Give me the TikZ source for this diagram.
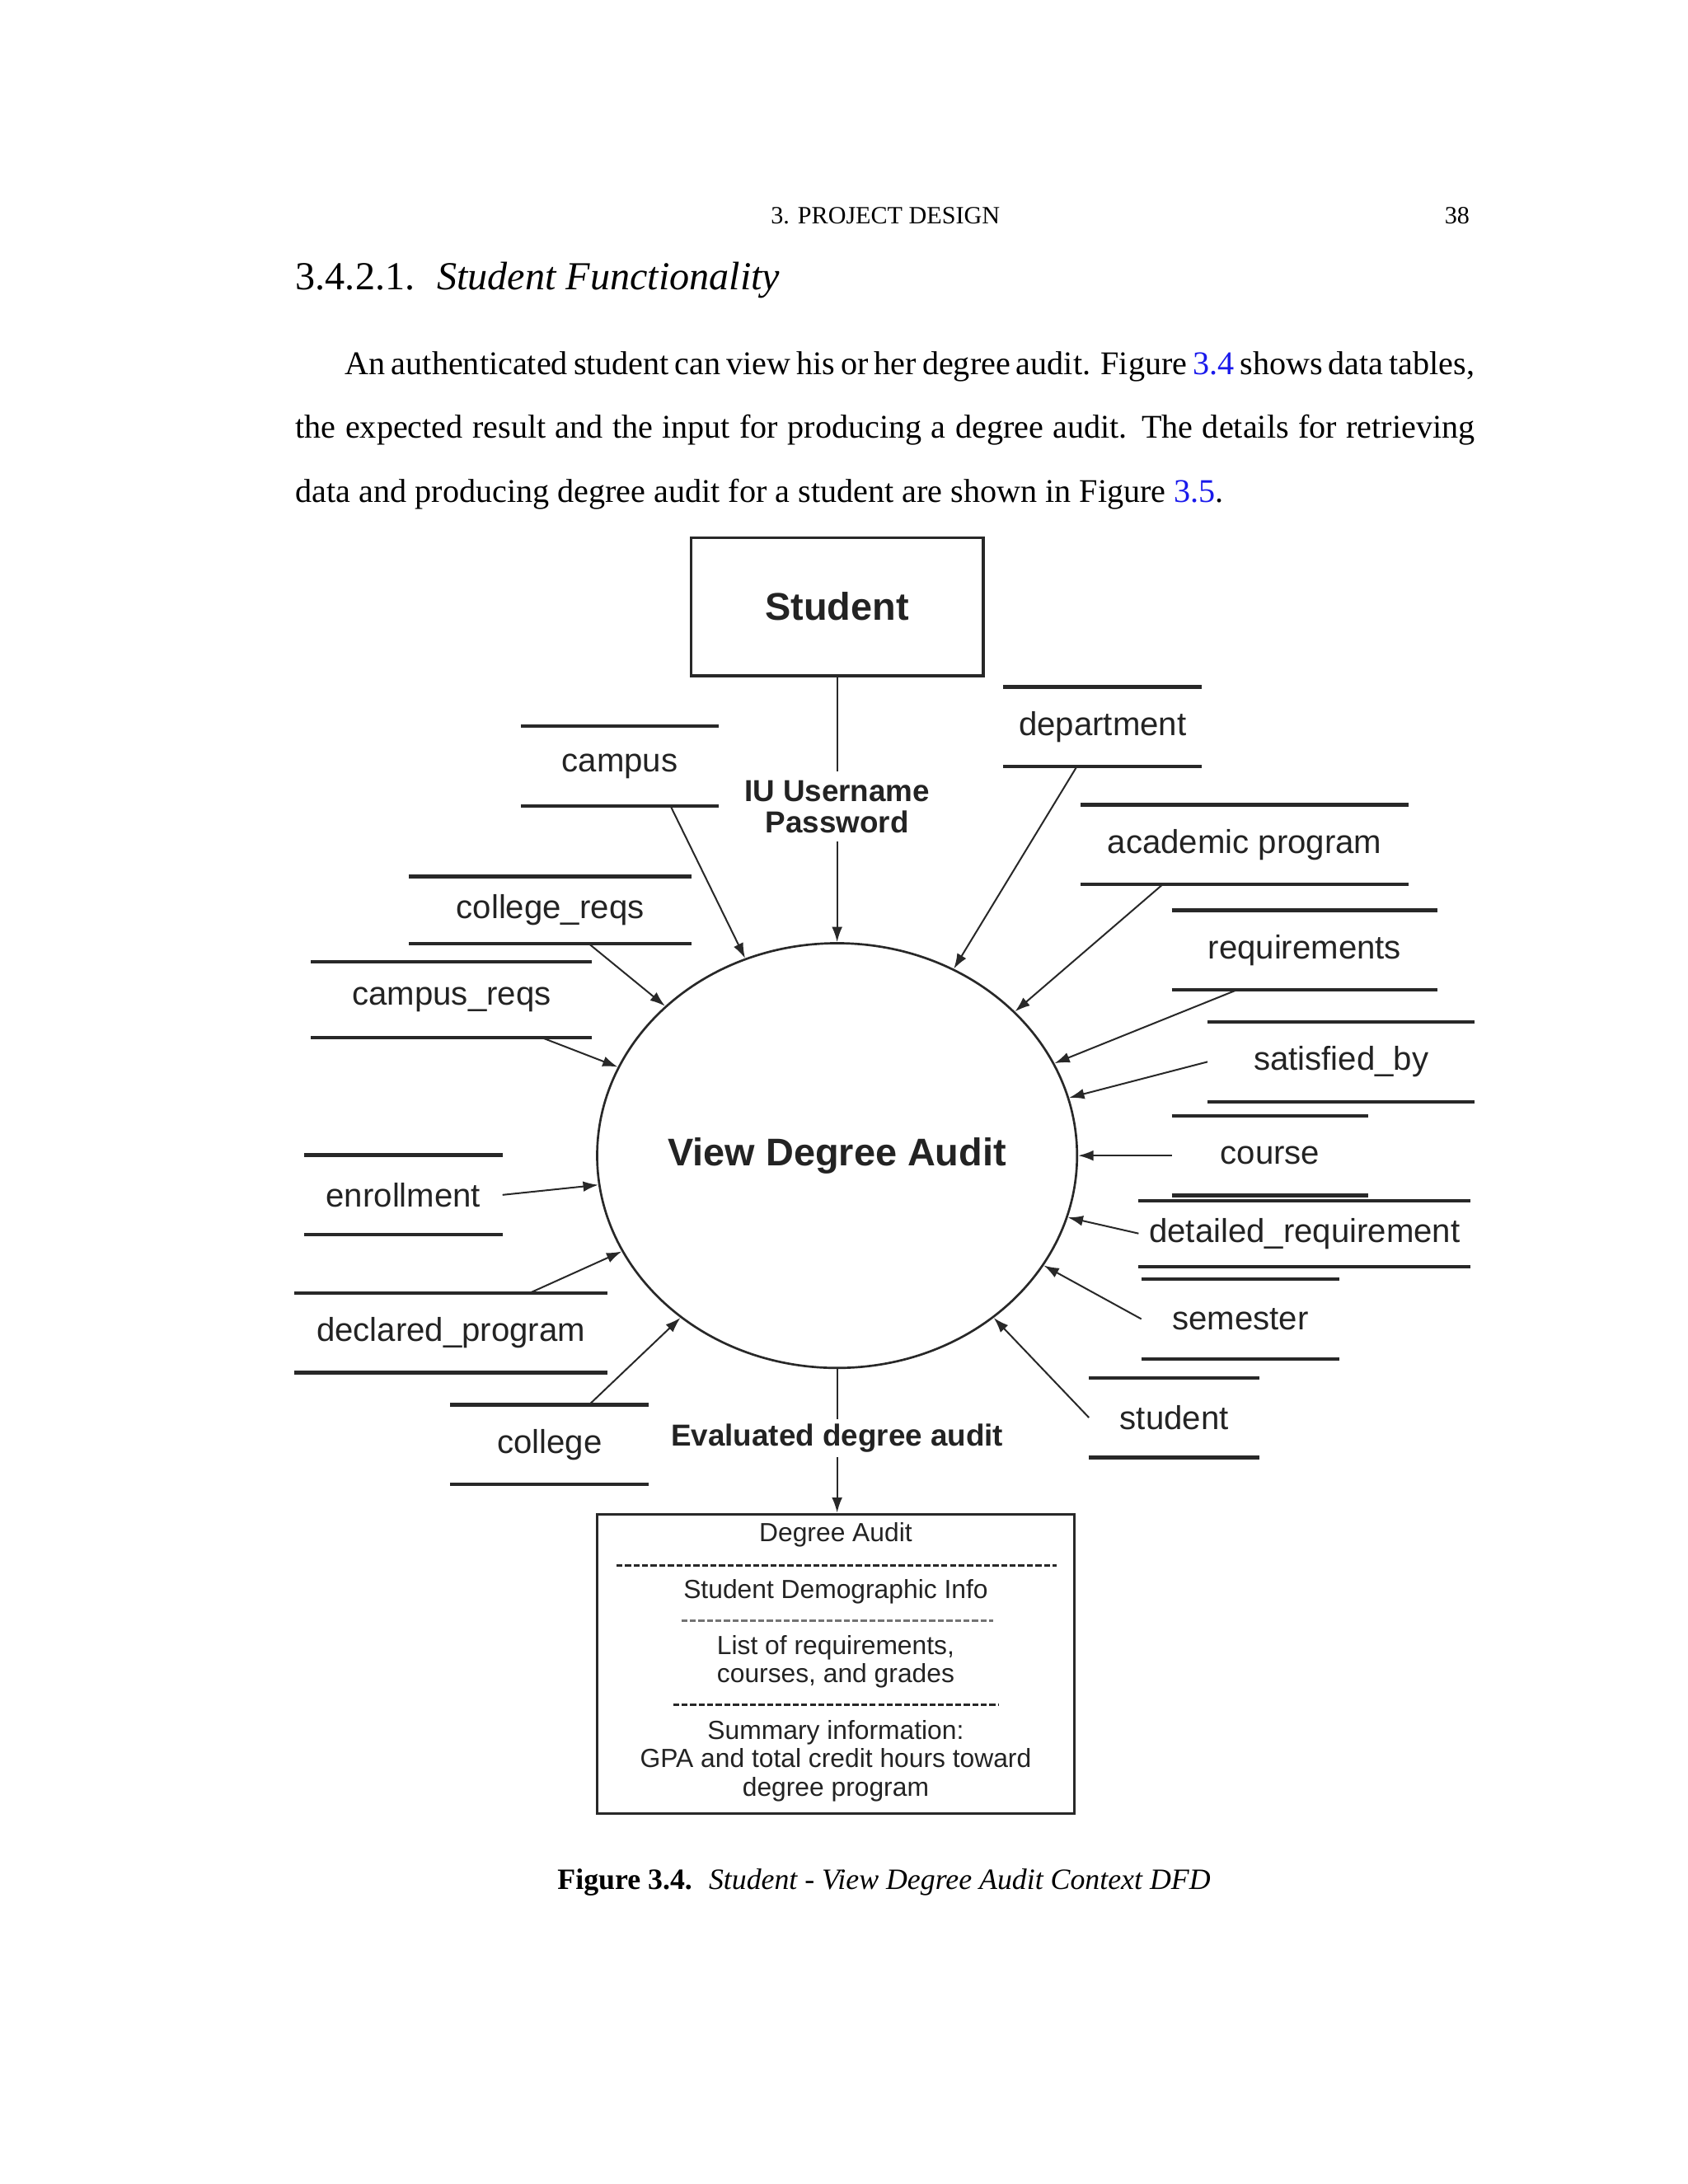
\documentclass[tikz,border=0pt]{standalone}
\usepackage{fontspec}
\setmainfont{Liberation Serif}
\newfontfamily\diagfont{Liberation Sans}
\usetikzlibrary{positioning,arrows.meta,calc,shapes.geometric}
\definecolor{dfdLink}{RGB}{25,25,235}
\definecolor{dfdInk}{RGB}{35,35,35}
\definecolor{dfdLine}{RGB}{40,40,40}

\tikzset{
  storeline/.style={draw=dfdLine, line width=1.3pt},
  store/.style={inner sep=0pt, minimum height=28.5pt, text=dfdInk,
    font=\diagfont\fontsize{12}{14}\selectfont,
    append after command={(\tikzlastnode.north west) edge[storeline] (\tikzlastnode.north east)
      (\tikzlastnode.south west) edge[storeline] (\tikzlastnode.south east)}},
  flow/.style={draw=dfdLine, line width=0.6pt, -{Latex[length=5.5pt,width=3.8pt]}},
  flowlabel/.style={inner sep=0pt, align=center, text=dfdInk,
    font=\diagfont\bfseries\fontsize{11}{11.5}\selectfont},
  boxtext/.style={inner sep=0pt, align=center, text=dfdInk,
    font=\diagfont\fontsize{9.5}{10.2}\selectfont},
  sepline/.style={draw=dfdLine, line width=0.9pt, dash pattern=on 2.2pt off 0.9pt}
}

\begin{document}
\begin{tikzpicture}[x=0.5pt, y=-0.5pt]
  \useasboundingbox (0,0) rectangle (1224,1583.8);

  % Page text
  \node[anchor=base, inner sep=0pt, font=\fontsize{9}{11}\selectfont] (runhead) at (642,162) {3. PROJECT DESIGN};
  \node[anchor=base east, inner sep=0pt, font=\fontsize{9}{11}\selectfont] (pagenum) at (1066,162) {38};
  \node[anchor=base west, inner sep=0pt, font=\fontsize{14.4}{17}\selectfont] (sechead) at (214,210)
    {3.4.2.1.\hspace{8pt}\textit{Student Functionality}};
  \node[anchor=north west, inner sep=0pt, text width=427.5pt, align=justify,
    font=\fontsize{12}{23.2}\selectfont] (intro) at (214,254.5) {%
    \hspace*{18pt}An authenticated student can view his or her degree audit. Figure \textcolor{dfdLink}{3.4} shows data tables,\linebreak
    the expected result and the input for producing a degree audit. The details for retrieving\linebreak
    data and producing degree audit for a student are shown in Figure \textcolor{dfdLink}{3.5}.};

  % External entity and process
  \node[draw=dfdLine, line width=1pt, minimum width=106pt, minimum height=50pt, text=dfdInk,
    font=\diagfont\bfseries\fontsize{14}{16}\selectfont] (student) at (607,440) {Student};
  \node[ellipse, draw=dfdLine, line width=0.8pt, minimum width=174pt, minimum height=154pt, inner sep=0pt,
    text=dfdInk, font=\diagfont\bfseries\fontsize{14}{16}\selectfont] (vda) at (607,838) {View Degree Audit};

  % Login flow
  \node[flowlabel, minimum height=25pt] (login) at (607,585) {IU Username\\Password};
  \draw[draw=dfdLine, line width=0.6pt] (student.south) -- (login.north);
  \draw[flow] (login.south) -- (vda.north);

  % Data stores, left side
  \node[store, minimum width=71.5pt] (campus) at (449.5,555.5) {campus};
  \node[store, minimum width=102pt, minimum height=24pt] (collegereqs) at (399,660) {college\_reqs};
  \node[store, minimum width=101.5pt, minimum height=27pt] (campusreqs) at (327.5,725) {campus\_reqs};
  \node[store, minimum width=71.5pt] (enrollment) at (292.5,866.5) {enrollment};
  \node[store, minimum width=113pt] (declprog) at (327,966.5) {declared\_program};
  \node[store, minimum width=71.5pt] (college) at (398.5,1047.5) {college};

  % Data stores, right side
  \node[store, minimum width=71.5pt] (department) at (799.5,527) {department};
  \node[store, minimum width=118.5pt] (acadprog) at (902.5,612.5) {academic program};
  \node[store, minimum width=96pt] (requirements) at (946,689) {requirements};
  \node[store, minimum width=96.5pt] (satisfiedby) at (972.5,770) {satisfied\_by};
  \node[store, minimum width=71pt] (course) at (921,838) {course};
  \node[store, minimum width=120pt, minimum height=23.5pt] (detailedreq) at (946,894.5) {detailed\_requirement};
  \node[store, minimum width=71.5pt] (semester) at (899.5,956.5) {semester};
  \node[store, minimum width=61.5pt] (studentstore) at (851.5,1028) {student};

  % Flows into the process
  \draw[flow] ($(campus.south west)!0.755!(campus.south east)$) -- (vda.115);
  \draw[flow] ($(collegereqs.south west)!0.637!(collegereqs.south east)$) -- (vda.139);
  \draw[flow] ($(campusreqs.south west)!0.82!(campusreqs.south east)$) -- (vda.158);
  \draw[flow] (enrollment.east) -- (vda.187);
  \draw[flow] ($(declprog.north west)!0.752!(declprog.north east)$) -- (vda.204);
  \draw[flow] ($(college.north west)!0.70!(college.north east)$) -- (vda.226);
  \draw[flow] ($(department.south west)!0.37!(department.south east)$) -- (vda.58);
  \draw[flow] ($(acadprog.south west)!0.25!(acadprog.south east)$) -- (vda.39);
  \draw[flow] ($(requirements.south west)!0.245!(requirements.south east)$) -- (vda.23);
  \draw[flow] (satisfiedby.west) -- (vda.14);
  \draw[flow] (course.west) -- (vda.east);
  \draw[flow] (detailedreq.west) -- (vda.345);
  \draw[flow] (semester.west) -- (vda.332);
  \draw[flow] (studentstore.west) -- (vda.314);

  % Output flow and report
  \node[flowlabel, minimum height=13.5pt] (evaluated) at (607,1043) {Evaluated degree audit};
  \node[draw=dfdLine, line width=1pt, minimum width=173pt, minimum height=108.5pt] (audit) at (606,1206.5) {};
  \draw[draw=dfdLine, line width=0.6pt] (vda.south) -- (evaluated.north);
  \draw[flow] (evaluated.south) -- (evaluated.south |- audit.north);

  \node[boxtext] (audittitle) at (606,1113) {Degree Audit};
  \draw[sepline] (447,1135) -- (766,1135);
  \node[boxtext] (demog) at (606,1154) {Student Demographic Info};
  \draw[sepline, draw=black!55] (494,1175) -- (720,1175);
  \node[boxtext] (reqlist) at (606,1205) {List of requirements,\\courses, and grades};
  \draw[sepline] (488,1236) -- (724,1236);
  \node[boxtext] (summary) at (606,1277) {Summary information:\\GPA and total credit hours toward\\degree program};

  % Caption
  \node[anchor=base, inner sep=0pt, font=\fontsize{10.7}{13}\selectfont] (caption) at (641,1370)
    {\textbf{Figure 3.4.}\hspace{6pt}\textit{Student - View Degree Audit Context DFD}};
\end{tikzpicture}
\end{document}
